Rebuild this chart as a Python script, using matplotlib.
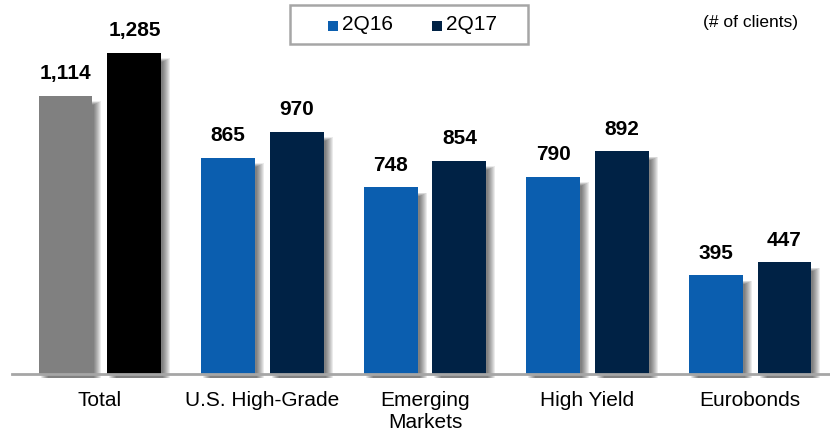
import numpy as np
import matplotlib
matplotlib.use("Agg")
import matplotlib.pyplot as plt
from matplotlib.patches import Rectangle

# data
categories = ["Total", "U.S. High-Grade", "Emerging\nMarkets", "High Yield", "Eurobonds"]
series_names = ["2Q16", "2Q17"]
values_2q16 = [1114, 865, 748, 790, 395]
values_2q17 = [1285, 970, 854, 892, 447]

blue = "#0B5EAF"
navy = "#002245"
colors_2q16 = ["#808080", blue, blue, blue, blue]
colors_2q17 = ["#000000", navy, navy, navy, navy]

plt.rcParams['font.family'] = ['Liberation Sans', 'DejaVu Sans']

fig = plt.figure(figsize=(8.3, 4.33), dpi=100)
# axes spans the whole width; baseline sits 59px above the bottom
ax = fig.add_axes([0, 59 / 433, 1, 374 / 433])
ax.set_xlim(-0.615, 4.492)
ax.set_ylim(0, 1497)
ax.axis("off")

x = np.arange(len(categories))
width = 0.332
offset = 0.212
px_x = 1 / 162.5   # data units per pixel (x)
px_y = 4.0         # data units per pixel (y)


def shadow(ax, xc, h):
    # soft drop shadow to the right of each bar
    for k in range(8):
        dx = (2 + k) * px_x
        ax.add_patch(Rectangle((xc - width / 2 + dx, -4 * px_y), width, h - (5 - k * 0.5) * px_y,
                               facecolor="black", alpha=0.08, edgecolor="none", zorder=1,
                               clip_on=False))


for xi, v1, v2 in zip(x, values_2q16, values_2q17):
    shadow(ax, xi - offset, v1)
    shadow(ax, xi + offset, v2)

ax.bar(x - offset, values_2q16, width, color=colors_2q16, zorder=3)
ax.bar(x + offset, values_2q17, width, color=colors_2q17, zorder=3)

# baseline
ax.plot([-0.54, 4.492], [0, 0], color="#A6A6A6", lw=2, zorder=4, clip_on=False)

for xi, v in zip(x, values_2q16):
    ax.annotate(f"{v:,}", (xi - offset, v), xytext=(0, 9), textcoords="offset points",
                ha="center", va="bottom", fontsize=15, fontweight="bold")
for xi, v in zip(x, values_2q17):
    ax.annotate(f"{v:,}", (xi + offset, v), xytext=(0, 9), textcoords="offset points",
                ha="center", va="bottom", fontsize=15, fontweight="bold")

for xi, lab in zip(x, categories):
    ax.annotate(lab, (xi, 0), xytext=(0, -12), textcoords="offset points",
                ha="center", va="top", fontsize=15, linespacing=1.22)

# legend box drawn by hand
W, H = 830, 433
fig.patches.append(Rectangle((290 / W, 1 - 44 / H), 238 / W, 39 / H, transform=fig.transFigure,
                             facecolor="white", edgecolor="#A6A6A6", lw=1.8))
leg_x = [328, 432]
for lx, name, col in zip(leg_x, series_names, [blue, navy]):
    fig.patches.append(Rectangle((lx / W, 1 - 31 / H), 10 / W, 10 / H, transform=fig.transFigure,
                                 facecolor=col, edgecolor="none"))
    fig.text((lx + 14) / W, 1 - 25 / H, name, fontsize=15, va="center", ha="left")

fig.text(798 / W, 1 - 23 / H, "(# of clients)", fontsize=12.5, ha="right", va="center")

fig.savefig("out.png", dpi=100)
